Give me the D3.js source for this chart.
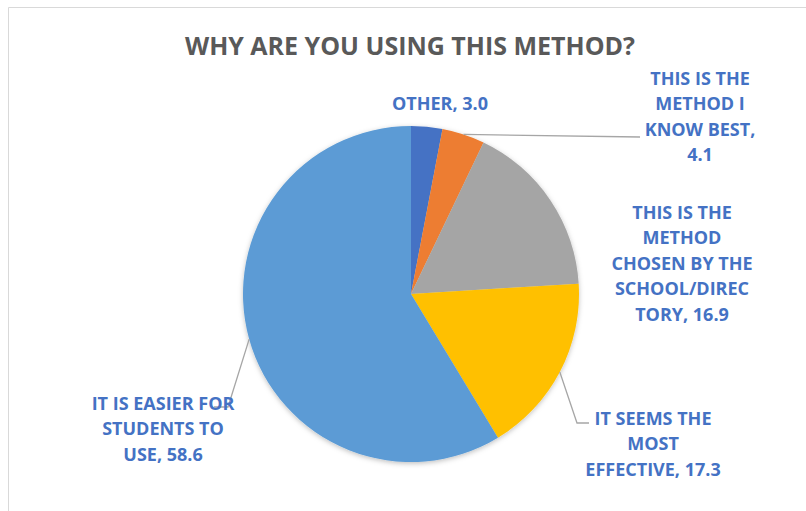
<!DOCTYPE html>
<html lang="en">
<head>
    <meta charset="UTF-8">
    <title>Why are you using this method?</title>
    <script src="https://d3js.org/d3.v7.min.js"></script>
    <style>
        body { margin: 0; background: #fff; }
        text { font-family: "Open Sans", Lato, sans-serif; font-weight: bold; }
    </style>
</head>
<body>
    <div id="chart"></div>
    <script>
        // data, clockwise from 12 o'clock
        const categories = [
            "OTHER",
            "THIS IS THE METHOD I KNOW BEST",
            "THIS IS THE METHOD CHOSEN BY THE SCHOOL/DIRECTORY",
            "IT SEEMS THE MOST EFFECTIVE",
            "IT IS EASIER FOR STUDENTS TO USE"
        ];
        const values = [3.0, 4.1, 16.9, 17.3, 58.6];
        const labelLines = [
            ["OTHER, 3.0"],
            ["THIS IS THE", "METHOD I", "KNOW BEST,", "4.1"],
            ["THIS IS THE", "METHOD", "CHOSEN BY THE", "SCHOOL/DIREC", "TORY, 16.9"],
            ["IT SEEMS THE", "MOST", "EFFECTIVE, 17.3"],
            ["IT IS EASIER FOR", "STUDENTS TO", "USE, 58.6"]
        ];
        const colors = ["#4472C4", "#ED7D31", "#A5A5A5", "#FFC000", "#5B9BD5"];

        const width = 806;
        const height = 511;
        const cx = 411, cy = 294, radius = 168;
        const lineHeight = 25.5;

        // label block centres + leader elbow (null = no leader)
        const labelLayout = [
            { x: 440, y: 103, leader: null },
            { x: 700, y: 78, leader: [[640, 137]] },
            { x: 682, y: 212, leader: null },
            { x: 653, y: 418, leader: [[577, 423], [589, 423]] },
            { x: 163, y: 403, leader: [[228, 407], [214, 407]] }
        ];

        const svg = d3.select("#chart").append("svg")
            .attr("width", width)
            .attr("height", height);

        // chart frame (only top and left edges visible)
        svg.append("path")
            .attr("d", `M8.5,${height} V7.5 H${width}`)
            .attr("fill", "none")
            .attr("stroke", "#D9D9D9")
            .attr("stroke-width", 1);

        svg.append("text")
            .attr("x", 410)
            .attr("y", 55)
            .attr("text-anchor", "middle")
            .attr("font-size", 25)
            .attr("fill", "#595959")
            .text("WHY ARE YOU USING THIS METHOD?");

        const defs = svg.append("defs");
        const shadow = defs.append("filter").attr("id", "shadow")
            .attr("x", "-20%").attr("y", "-20%").attr("width", "140%").attr("height", "140%");
        shadow.append("feDropShadow")
            .attr("dx", 0).attr("dy", 1.5)
            .attr("stdDeviation", 2.5)
            .attr("flood-color", "#000")
            .attr("flood-opacity", 0.25);

        const pie = d3.pie().sort(null).value(d => d);
        const arcs = pie(values);
        const arc = d3.arc().innerRadius(0).outerRadius(radius);

        const g = svg.append("g").attr("transform", `translate(${cx},${cy})`);

        g.append("g")
            .attr("filter", "url(#shadow)")
            .selectAll("path")
            .data(arcs)
            .join("path")
            .attr("d", arc)
            .attr("fill", (d, i) => colors[i]);

        // leader lines from slice edge at mid-angle
        arcs.forEach((d, i) => {
            const lay = labelLayout[i];
            if (!lay.leader) return;
            const mid = (d.startAngle + d.endAngle) / 2;
            const start = [cx + radius * Math.sin(mid), cy - radius * Math.cos(mid)];
            svg.append("path")
                .attr("d", d3.line()([start, ...lay.leader]))
                .attr("fill", "none")
                .attr("stroke", "#A6A6A6")
                .attr("stroke-width", 1.3);
        });

        // data labels
        labelLines.forEach((lines, i) => {
            const lay = labelLayout[i];
            const t = svg.append("text")
                .attr("text-anchor", "middle")
                .attr("font-size", 18)
                .attr("fill", "#4472C4");
            lines.forEach((line, j) => {
                t.append("tspan")
                    .attr("x", lay.x)
                    .attr("y", lay.y + j * lineHeight + 6.5)
                    .text(line);
            });
        });
    </script>
</body>
</html>
